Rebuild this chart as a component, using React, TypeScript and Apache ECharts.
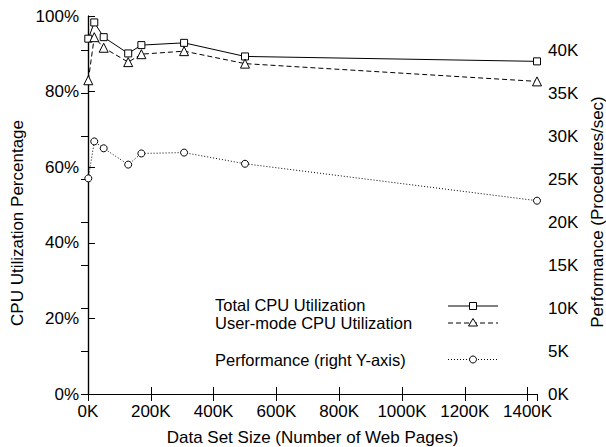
import React, { useEffect, useRef } from "react";
import * as echarts from "echarts";

const dataSetSizes = [1000, 20000, 50000, 128000, 170000, 306000, 500000, 1430000];
const totalCpu = [94.0, 98.3, 94.4, 90.1, 92.3, 92.9, 89.3, 88.0];
const userCpu = [83.0, 94.4, 91.6, 87.8, 89.9, 90.7, 87.4, 82.7];
const performance = [25100, 29400, 28600, 26700, 28000, 28100, 26800, 22500];

const legendNames = ["Total CPU Utilization", "User-mode CPU Utilization", "Performance (right Y-axis)"];
const xAxisName = "Data Set Size (Number of Web Pages)";
const leftAxisName = "CPU Utilization Percentage";
const rightAxisName = "Performance (Procedures/sec)";

const FONT = "Liberation Sans, Arial, Helvetica, sans-serif";
const FS = 17;
const LEGEND_FS = 16.5;

export default function App() {
  const ref = useRef<HTMLDivElement>(null);
  useEffect(() => {
    if (!ref.current) return;
    const chart = echarts.init(ref.current, undefined, { renderer: "svg" });
    const zip = (ys: number[]) => dataSetSizes.map((x, i) => [x, ys[i]]);
    const kFmt = (v: number) => `${Math.round(v / 1000)}K`;
    const lbl = { color: "#000", fontSize: FS, fontFamily: FONT };
    const axLine = { show: true, lineStyle: { color: "#000", width: 1.2 } };
    const tick = { show: true, inside: true, length: 7, lineStyle: { color: "#000", width: 1 } };

    const legendYs = [304.5, 323, 359.5];
    const lx1 = 448, lx2 = 498, mx = 473;
    const graphic: any[] = [];
    legendNames.forEach((name, i) => {
      graphic.push({
        type: "text", x: 215, y: legendYs[i],
        style: { text: name, fill: "#000", fontSize: LEGEND_FS, lineHeight: 16, fontFamily: FONT, align: "left", verticalAlign: "middle" },
      });
    });
    graphic.push({ type: "line", shape: { x1: lx1, y1: legendYs[0] + 1.5, x2: lx2, y2: legendYs[0] + 1.5 }, style: { stroke: "#000", lineWidth: 1 } });
    graphic.push({ type: "rect", shape: { x: mx - 3.5, y: legendYs[0] + 1.5 - 3.5, width: 7, height: 7 }, style: { fill: "#fff", stroke: "#000", lineWidth: 1 } });
    graphic.push({ type: "line", shape: { x1: lx1, y1: legendYs[1], x2: lx2, y2: legendYs[1] }, style: { stroke: "#000", lineWidth: 1, lineDash: [5, 3] } });
    graphic.push({ type: "polygon", shape: { points: [[mx, legendYs[1] - 4.5], [mx + 4.5, legendYs[1] + 3], [mx - 4.5, legendYs[1] + 3]] }, style: { fill: "#fff", stroke: "#000", lineWidth: 1 } });
    graphic.push({ type: "line", shape: { x1: lx1, y1: legendYs[2], x2: lx2, y2: legendYs[2] }, style: { stroke: "#000", lineWidth: 1, lineDash: [1, 2] } });
    graphic.push({ type: "circle", shape: { cx: mx, cy: legendYs[2], r: 3.5 }, style: { fill: "#fff", stroke: "#000", lineWidth: 1 } });

    graphic.push({ type: "text", x: 312.5, y: 437, style: { text: xAxisName, fill: "#000", fontSize: FS, fontFamily: FONT, align: "center", verticalAlign: "middle" } });
    graphic.push({ type: "text", x: 17.5, y: 223, rotation: Math.PI / 2, style: { text: leftAxisName, fill: "#000", fontSize: FS, fontFamily: FONT, align: "center", verticalAlign: "middle" } });
    graphic.push({ type: "text", x: 597, y: 212, rotation: Math.PI / 2, style: { text: rightAxisName, fill: "#000", fontSize: FS, fontFamily: FONT, align: "center", verticalAlign: "middle" } });

    chart.setOption({
      animation: false,
      backgroundColor: "#fff",
      grid: { left: 88, right: 69, top: 16, bottom: 53 },
      xAxis: [
        {
          type: "value", min: 0, max: 1430000, interval: 200000, position: "bottom",
          axisLine: axLine, axisTick: tick, splitLine: { show: false },
          axisLabel: { ...lbl, margin: 9, formatter: kFmt, showMaxLabel: false },
        },
        {
          type: "value", min: 0, max: 1430000, interval: 200000, position: "top",
          axisLine: axLine, axisTick: tick, splitLine: { show: false },
          axisLabel: { show: false },
        },
      ],
      yAxis: [
        {
          type: "value", min: 0, max: 100, interval: 20, position: "left",
          axisLine: axLine, axisTick: tick, splitLine: { show: false },
          axisLabel: { ...lbl, margin: 9, formatter: "{value}%" },
        },
        {
          type: "value", min: 0, max: 44000, interval: 5000, position: "right",
          axisLine: axLine, axisTick: tick, splitLine: { show: false },
          axisLabel: { ...lbl, margin: 11, formatter: kFmt, showMaxLabel: false },
        },
      ],
      series: [
        {
          name: legendNames[0], type: "line", xAxisIndex: 0, yAxisIndex: 0, data: zip(totalCpu),
          symbol: "rect", symbolSize: 7, showAllSymbol: true,
          lineStyle: { color: "#000", width: 1 },
          itemStyle: { color: "#fff", borderColor: "#000", borderWidth: 1 },
        },
        {
          name: legendNames[1], type: "line", xAxisIndex: 0, yAxisIndex: 0, data: zip(userCpu),
          symbol: "triangle", symbolSize: 9, showAllSymbol: true,
          lineStyle: { color: "#000", width: 1, type: [5, 3] },
          itemStyle: { color: "#fff", borderColor: "#000", borderWidth: 1 },
        },
        {
          name: legendNames[2], type: "line", xAxisIndex: 0, yAxisIndex: 1, data: zip(performance),
          symbol: "circle", symbolSize: 7, showAllSymbol: true,
          lineStyle: { color: "#000", width: 1, type: [1, 2] },
          itemStyle: { color: "#fff", borderColor: "#000", borderWidth: 1 },
        },
      ],
      graphic,
    });
    return () => chart.dispose();
  }, []);
  return <div ref={ref} style={{ position: "fixed", left: 0, top: 0, width: 606, height: 447 }} />;
}
